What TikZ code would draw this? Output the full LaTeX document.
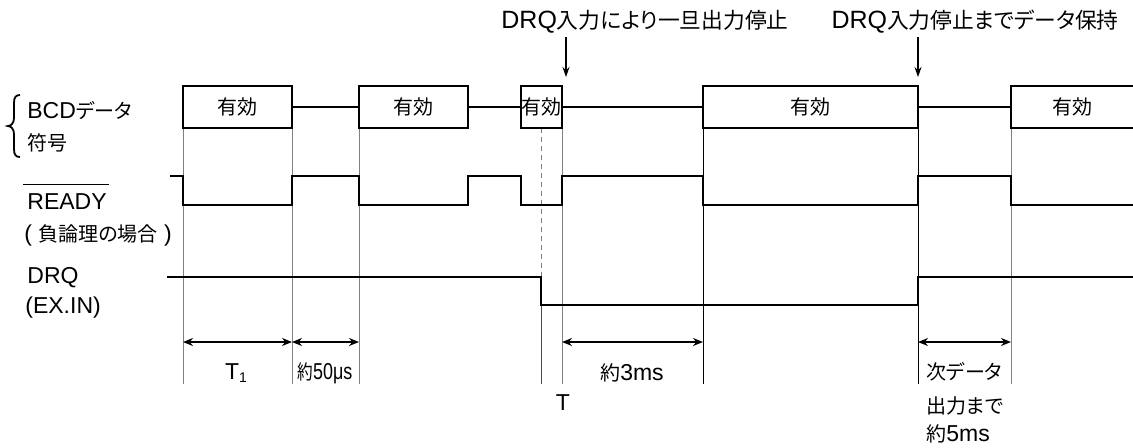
\documentclass[tikz,border=0pt]{standalone}
\usepackage{fontspec}
\usepackage{graphicx}
\setmainfont{Liberation Sans}
\newfontfamily\jpf[Scale=0.87,RawFeature=+palt]{Noto Sans CJK JP}
\newcommand\jp[1]{{\jpf #1}}
\usetikzlibrary{arrows.meta}
\tikzset{
  sig/.style={line width=1pt, line join=miter},
  guide/.style={line width=0.5pt, gray},
  guideblk/.style={line width=0.5pt, black},
  dimarrow/.style={line width=0.8pt, {Stealth[length=5pt,width=4pt]}-{Stealth[length=5pt,width=4pt]}},
  callout/.style={line width=0.6pt, -{Stealth[length=5pt,width=3.5pt]}},
  lbl/.style={inner sep=0pt, font=\fontsize{11.5pt}{14pt}\selectfont},
  title/.style={inner sep=0pt, font=\fontsize{12.5pt}{15pt}\selectfont},
}
\begin{document}
\begin{tikzpicture}[x=0.5pt, y=-0.5pt]
\useasboundingbox[fill=white] (0,0) rectangle (1133,447);

% --- callouts at top
\node[title] (c1) at (645,22) {DRQ\jp{入力により一旦出力停止}};
\node[title] (c2) at (975,22) {DRQ\jp{入力停止までデータ保持}};
\coordinate (c1s) at (566,37); \coordinate (c1e) at (566,77);
\coordinate (c2s) at (918,37); \coordinate (c2e) at (918,77);
\draw[callout] (c1s) -- (c1e);
\draw[callout] (c2s) -- (c2e);

% --- left labels
\draw[line width=0.9pt] (20,95) .. controls (16,95) and (14,97) .. (14,103) -- (14,118)
  .. controls (14,123) and (11,126) .. (8,126)
  .. controls (11,126) and (14,129) .. (14,134) -- (14,149)
  .. controls (14,155) and (16,157) .. (20,157);
\node[lbl, anchor=west] (bcd) at (27,111) {BCD\jp{データ}};
\node[lbl, anchor=west] (fugo) at (27,143) {\jp{符号}};
\node[lbl, anchor=west] (ready) at (27,202) {READY};
\draw[line width=0.6pt] ([xshift=-2pt,yshift=4.5pt]ready.north west) -- ([xshift=1pt,yshift=4.5pt]ready.north east);
\node[lbl] (neg) at (98,235) {( \jp{負論理の場合} )};
\node[lbl, anchor=west] (drq) at (27,278) {DRQ};
\node[lbl, anchor=west] (exin) at (25,308) {(EX.IN)};

% --- guide lines
\draw[guide] (183,128) -- (183,384);
\draw[guide] (292,128) -- (292,384);
\draw[guide] (359,128) -- (359,384);
\draw[guide, dashed, dash pattern=on 2.5pt off 2pt] (541,128) -- (541,277);
\draw[guide, gray!60!black] (541,305) -- (541,384);
\draw[guide] (562,128) -- (562,384);
\draw[guideblk] (703,128) -- (703,384);
\draw[guideblk] (918,128) -- (918,384);
\draw[guide] (1011,128) -- (1011,384);

% --- BCD data row
\draw[sig] (183,86) rectangle (292,128);
\draw[sig] (359,86) rectangle (468,128);
\draw[sig] (521,86) rectangle (562,128);
\draw[sig] (703,86) rectangle (918,128);
\draw[sig] (1140,86) -- (1011,86) -- (1011,128) -- (1140,128);
\draw[sig] (292,107) -- (359,107);
\draw[sig] (468,107) -- (521,107);
\draw[sig] (562,107) -- (703,107);
\draw[sig] (918,107) -- (1011,107);
\node[lbl] (v1) at (237.5,107) {\jp{有効}};
\node[lbl] (v2) at (413.5,107) {\jp{有効}};
\node[lbl] (v3) at (541.5,107) {\jp{有効}};
\node[lbl] (v4) at (810.5,107) {\jp{有効}};
\node[lbl] (v5) at (1072,107) {\jp{有効}};

% --- READY row
\draw[sig] (170,176) -- (183,176) -- (183,205) -- (292,205) -- (292,176) -- (359,176)
  -- (359,205) -- (468,205) -- (468,176) -- (521,176) -- (521,205) -- (562,205)
  -- (562,176) -- (703,176) -- (703,205) -- (918,205) -- (918,176) -- (1011,176)
  -- (1011,205) -- (1140,205);

% --- DRQ row
\draw[sig] (167,277) -- (541,277) -- (541,305) -- (918,305) -- (918,277) -- (1140,277);

% --- dimensions
\coordinate (d1a) at (183,342); \coordinate (d1b) at (292,342);
\coordinate (d2a) at (292,342); \coordinate (d2b) at (359,342);
\coordinate (d3a) at (562,342); \coordinate (d3b) at (703,342);
\coordinate (d4a) at (918,342); \coordinate (d4b) at (1011,342);
\draw[dimarrow] (d1a) -- (d1b);
\draw[dimarrow] (d2a) -- (d2b);
\draw[dimarrow] (d3a) -- (d3b);
\draw[dimarrow] (d4a) -- (d4b);

\node[lbl] (t1) at (236,373) {T\raisebox{-0.25ex}{\fontsize{7pt}{7pt}\selectfont 1}};
\node[lbl] (u50) at (325,373) {\scalebox{0.78}[1]{\jp{約}50μs}};
\node[lbl] (m3) at (632,373) {\jp{約}3ms};
\node[lbl] (tt) at (563,403) {T};
\node[lbl, anchor=west] (n1) at (926,372) {\jp{次データ}};
\node[lbl, anchor=west] (n2) at (926,406) {\jp{出力まで}};
\node[lbl, anchor=west] (n3) at (926,434) {\jp{約}5ms};
\end{tikzpicture}
\end{document}
